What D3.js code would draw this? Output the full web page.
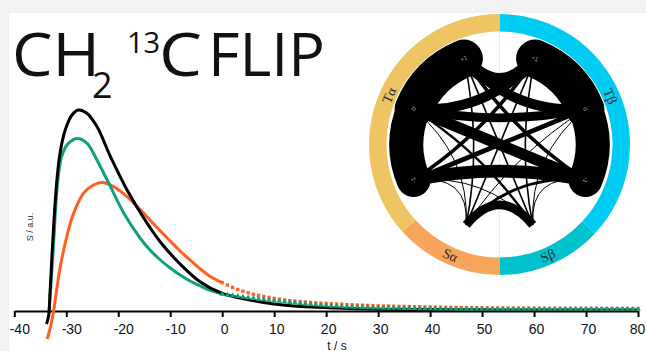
<!DOCTYPE html>
<html><head><meta charset="utf-8">
<script src="https://cdn.jsdelivr.net/npm/d3@7"></script>
<style>html,body{margin:0;padding:0;background:#f2f2f2;} svg{display:block}</style>
</head><body><svg id="c" width="646" height="351"></svg>
<script>
// ---------- data ----------
const xTicks = [-40,-30,-20,-10,0,10,20,30,40,50,60,70,80];

const blackT = [-33.8,-33.4,-33.1,-32.4,-31.8,-31.2,-30.2,-28.9,-27.7,-26.1,-24.1,-21.5,-18.3,-15.1,-11.9,-8.1,-4.2,0,2.5,5.4,8,11.7,15,20.8,25,30,40,50,60,70,80];
const blackY = [-0.07,-0.03,0.10,0.435,0.65,0.785,0.9,0.975,1.0,0.985,0.917,0.767,0.6,0.46,0.34,0.23,0.14,0.083,0.065,0.05,0.038,0.025,0.018,0.011,0.007,0.004,0.002,0.001,0,0,0];

const greenT = [-33.3,-32.9,-32.4,-31.8,-30.9,-29.6,-27.8,-26.0,-24.1,-21.5,-18.9,-15.8,-13.9,-11.9,-10,-8.1,-6.2,-4.2,-2.3,0];
const greenY = [0,0.15,0.35,0.6,0.767,0.833,0.858,0.833,0.75,0.617,0.483,0.36,0.30,0.25,0.21,0.175,0.145,0.12,0.098,0.08];

const orangeT = [-33.65,-32.75,-31.15,-29.9,-28.6,-26.7,-24.75,-23.1,-20.9,-18.3,-15.1,-13.9,-11.9,-10,-8.1,-6.2,-4.2,-2.3,0];
const orangeY = [-0.145,-0.05,0.217,0.367,0.483,0.583,0.625,0.637,0.617,0.567,0.483,0.45,0.395,0.345,0.295,0.25,0.205,0.168,0.137];

const markT = [0,1,2,3,4,5,6,7,8,9,10,11,12,13,14,15,16,17,18,19,20,21,22,23,24,25,26,27,28,29,30,31,32,33,34,35,36,37,38,39,40,41,42,43,44,45,46,47,48,49,50,51,52,53,54,55,56,57,58,59,60,61,62,63,64,65,66,67,68,69,70,71,72,73,74,75,76,77,78,79,80];
const orangeMarkY = [
 .137,.125,.113,.103,.094,.086,.079,.073,.068,.063,
 .058,.054,.050,.047,.045,.042,.040,.038,.036,.034,
 .033,.031,.030,.029,.027,.026,.025,.024,.023,.022,
 .021,.020,.020,.019,.018,.018,.017,.016,.016,.015,
 .015,.014,.014,.013,.013,.012,.012,.012,.011,.011,
 .011,.010,.010,.010,.010,.009,.009,.009,.009,.009,
 .009,.008,.008,.008,.008,.008,.008,.008,.008,.008,
 .008,.008,.008,.007,.007,.007,.007,.007,.007,.007,
 .007];
const greenMarkY = [
 .080,.076,.072,.068,.064,.061,.058,.055,.052,.049,
 .046,.044,.041,.038,.036,.033,.031,.029,.026,.024,
 .022,.020,.019,.017,.016,.015,.014,.013,.012,.011,
 .011,.010,.010,.009,.009,.008,.008,.008,.007,.007,
 .007,.006,.006,.006,.006,.005,.005,.005,.005,.005,
 .004,.004,.004,.004,.004,.004,.004,.004,.004,.004,
 .004,.004,.004,.004,.004,.004,.004,.004,.004,.004,
 .004,.004,.004,.004,.004,.004,.004,.004,.004,.004,
 .004];

const ringGroups = ['Tβ','Sβ','Sα','Tα'];
const ringSpans  = [133,47,48,132];
const ringColors = ['#00cbf2','#00c2cc','#f9a55b','#efc462'];

const chordNodes = ['Tβ+1','Tβ0','Tβ-1','Sβ','Sα','Tα-1','Tα0','Tα+1'];
const nodeLabels = ['+1','0','-1','','','-1','0','+1'];

const linkSource = ['Tα+1','Tα0','Tβ+1','Tβ0','Tα+1','Tα+1','Tα+1','Tα0','Tα0','Tα0','Tα-1','Tα-1','Tα-1','Sα',
                    'Sα','Sα','Sα','Sα','Sα','Sα','Sβ','Sβ','Sβ','Sβ','Sβ','Sβ'];
const linkTarget = ['Tα0','Tα-1','Tβ0','Tβ-1','Tβ+1','Tβ0','Tβ-1','Tβ+1','Tβ0','Tβ-1','Tβ+1','Tβ0','Tβ-1','Sβ',
                    'Tα-1','Tα0','Tα+1','Tβ+1','Tβ0','Tβ-1','Tβ-1','Tβ0','Tβ+1','Tα+1','Tα0','Tα-1'];
const linkWeight = [95,85,95,85,35,25,9,25,22,28,9,12,32,22,
                    2.5,2.5,4,4,2.5,7,2.5,2.5,4,4,6,2.5];

// ---------- drawing ----------
const svg = d3.select('#c');
svg.append('rect').attr('x',0).attr('y',0).attr('width',646).attr('height',351).attr('fill','#f2f2f2');
svg.append('rect').attr('x',9).attr('y',13).attr('width',637).attr('height',338).attr('fill','#ffffff');

const x = d3.scaleLinear().domain([-40,80]).range([14.3,638]);
const y = d3.scaleLinear().domain([0,1]).range([310,110]);

// axis
const axis = d3.axisBottom(x).tickValues(xTicks).tickSize(6).tickSizeOuter(0).tickPadding(7)
  .tickFormat(d => String(d));
const gx = svg.append('g').attr('transform','translate(0,311)').call(axis);
gx.select('.domain').attr('stroke','#000').attr('stroke-width',2);
gx.selectAll('.tick line').attr('stroke','#000').attr('stroke-width',2);
gx.selectAll('.tick text').attr('font-family','Liberation Sans, Arial, sans-serif').attr('font-size',14)
  .attr('fill','#111').attr('dx', (d,i) => d < 0 ? 5 : (i === xTicks.length-1 ? -1 : 2));

svg.append('text').attr('x',337).attr('y',349.5).attr('text-anchor','middle')
  .attr('font-family','Liberation Sans, Arial, sans-serif').attr('font-size',12).attr('fill','#111').text('t / s');
svg.append('text').attr('transform','translate(33,227) rotate(-90)').attr('text-anchor','middle')
  .attr('font-family','Liberation Sans, Arial, sans-serif').attr('font-size',9).attr('fill','#333').text('S / a.u.');

const line = d3.line().x(d => x(d[0])).y(d => y(d[1])).curve(d3.curveCatmullRom.alpha(0.5));
const zip = (a,b) => a.map((v,i)=>[v,b[i]]);

svg.append('path').datum(zip(orangeT,orangeY)).attr('d',line).attr('fill','none')
  .attr('stroke','#ff5f1f').attr('stroke-width',3);
svg.append('path').datum(zip(greenT,greenY)).attr('d',line).attr('fill','none')
  .attr('stroke','#0fa27c').attr('stroke-width',3);
svg.append('path').datum(zip(blackT,blackY)).attr('d',line).attr('fill','none')
  .attr('stroke','#000').attr('stroke-width',3);

const sq = d3.symbol().type(d3.symbolSquare).size(11);
const tri = d3.symbol().type(d3.symbolTriangle).size(14);
svg.append('g').selectAll('path').data(zip(markT,orangeMarkY)).join('path')
  .attr('d',sq).attr('transform',d=>`translate(${x(d[0])},${y(d[1])})`).attr('fill','#ff5f1f');
svg.append('g').selectAll('path').data(zip(markT,greenMarkY)).join('path')
  .attr('d',tri).attr('transform',d=>`translate(${x(d[0])},${y(d[1])})`).attr('fill','#0fa27c');

// title
const tf = 'Open Sans, Noto Sans, sans-serif';
const title = svg.append('g').attr('fill','#111').attr('font-family',tf).attr('font-weight',400);
title.append('text').attr('x',12).attr('y',76).attr('font-size',60).attr('textLength',88).attr('lengthAdjust','spacingAndGlyphs').text('CH');
title.append('text').attr('x',92).attr('y',98).attr('font-size',36).text('2');
title.append('text').attr('x',127).attr('y',53).attr('font-size',29).text('13');
title.append('text').attr('x',159).attr('y',76).attr('font-size',60).attr('textLength',43).attr('lengthAdjust','spacingAndGlyphs').text('C');
title.append('text').attr('x',208).attr('y',76).attr('font-size',60).attr('textLength',117).attr('lengthAdjust','spacingAndGlyphs').text('FLIP');

// ---------- chord diagram ----------
const cx = 499.5, cy = 144.5;
const g = svg.append('g').attr('transform',`translate(${cx},${cy})`);

g.append('line').attr('x1',0).attr('x2',0).attr('y1',-129).attr('y2',130)
  .attr('stroke','#d8d8d8').attr('stroke-width',1).attr('stroke-dasharray','2,2');

const pie = d3.pie().sort(null).value(d=>d);
const arcs = pie(ringSpans);
const ringArc = d3.arc().innerRadius(113).outerRadius(130.5);
g.selectAll('path.ring').data(arcs).join('path').attr('class','ring')
  .attr('d',ringArc).attr('fill',(d,i)=>ringColors[i]);

const labelR = 121;
g.selectAll('text.ringlab').data(arcs).join('text').attr('class','ringlab')
  .attr('transform',(d,i)=>{
    const a = (d.startAngle+d.endAngle)/2;
    const deg = a*180/Math.PI;
    const rot = (deg>90 && deg<270) ? deg-180 : deg;
    return `translate(${labelR*Math.sin(a)},${-labelR*Math.cos(a)}) rotate(${rot})`;
  })
  .attr('text-anchor','middle').attr('dy','0.35em')
  .attr('font-family','Liberation Serif, DejaVu Serif, serif').attr('font-size',14).attr('fill','#2a2a2a')
  .text((d,i)=>ringGroups[i]);

const angle = d3.scaleBand().domain(chordNodes).range([0,2*Math.PI]);
const nodeAngle = n => angle(n) + angle.bandwidth()/2;
const nodeRadius = n => n[0]==='S' ? 87 : 93;
const pos = n => { const a=nodeAngle(n), r=nodeRadius(n); return [r*Math.sin(a), -r*Math.cos(a)]; };
const wScale = d3.scaleLinear().domain([0,100]).range([0,40]);

const links = linkSource.map((s,i)=>({s, t:linkTarget[i], w:linkWeight[i]}))
  .sort((a,b)=>a.w-b.w);
g.selectAll('path.link').data(links).join('path').attr('class','link')
  .attr('d', d => {
    const p0 = pos(d.s), p2 = pos(d.t);
    const same = d.s[0]==='T' && d.t[0]==='T' && d.s[1]===d.t[1];
    let k = 0.5;
    if (same) { const half = Math.abs(nodeAngle(d.s)-nodeAngle(d.t))/2; k = 1/Math.pow(Math.cos(half),2); }
    const mx = (p0[0]+p2[0])/2, my = (p0[1]+p2[1])/2;
    const p = d3.path();
    p.moveTo(p0[0],p0[1]);
    p.quadraticCurveTo(k*mx, k*my, p2[0], p2[1]);
    return p.toString();
  })
  .attr('fill','none').attr('stroke','#000')
  .attr('stroke-width', d => wScale(d.w))
  .attr('stroke-linecap', d => (d.s[0]==='T' && d.t[0]==='T') ? 'round' : 'butt');

g.selectAll('text.nlab').data(chordNodes).join('text').attr('class','nlab')
  .attr('transform', n => { const p=pos(n); return `translate(${p[0]},${p[1]}) rotate(${nodeAngle(n)*180/Math.PI})`; })
  .attr('text-anchor','middle').attr('dy','0.35em')
  .attr('font-family','Liberation Sans, Arial, sans-serif').attr('font-size',6).attr('fill','#aaaaaa')
  .text((n,i)=>nodeLabels[i]);
</script>
</body></html>
